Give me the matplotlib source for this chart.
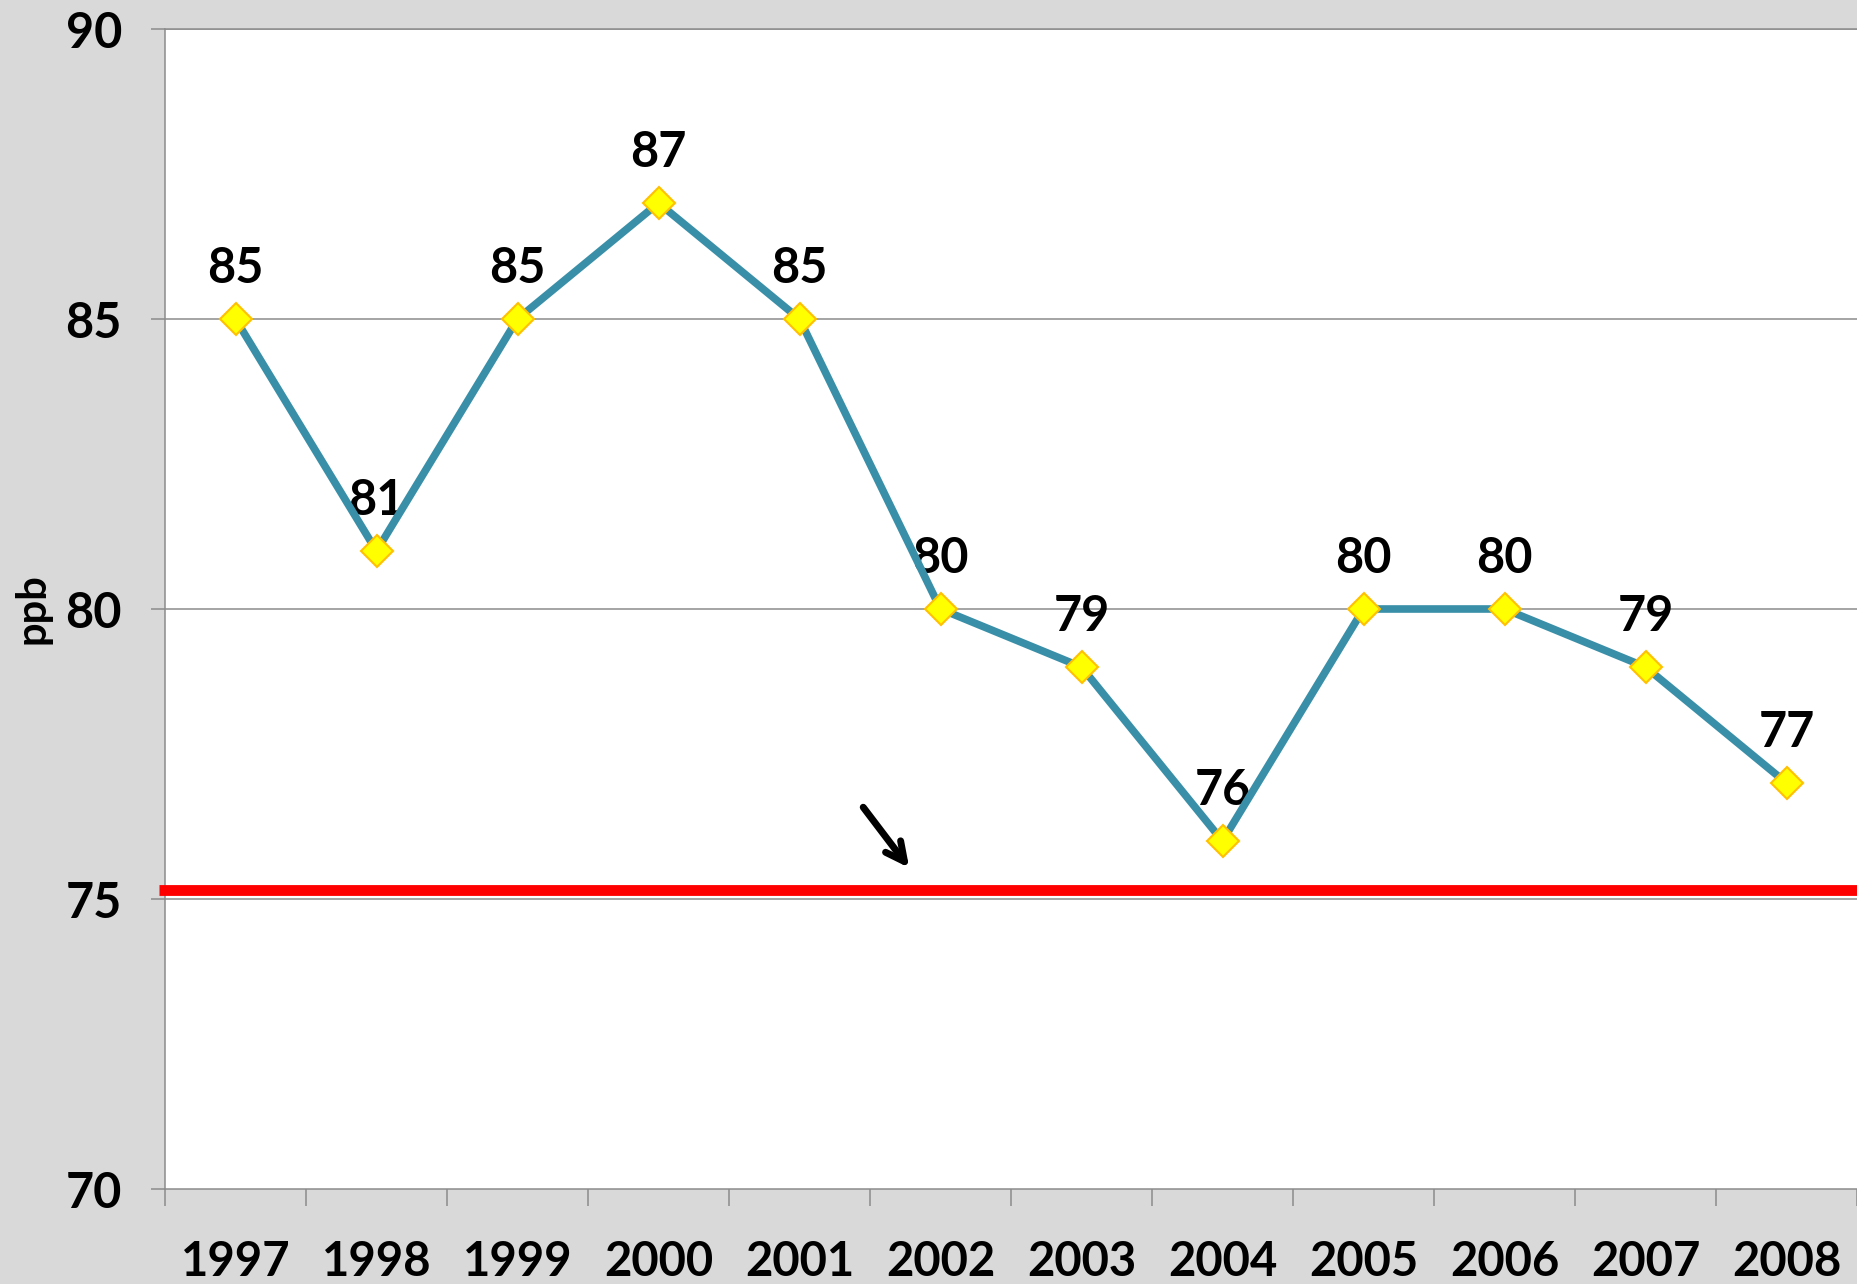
#Ozone trend line chart (ppb by year) with the standard drawn as a red line
import matplotlib.pyplot as plt
import numpy as np

plt.rcParams['font.family'] = ['Lato', 'DejaVu Sans']
plt.rcParams['font.weight'] = 'bold'

# data
years = ['1997', '1998', '1999', '2000', '2001', '2002',
         '2003', '2004', '2005', '2006', '2007', '2008']
ppb = [85, 81, 85, 87, 85, 80, 79, 76, 80, 80, 79, 77]
standard = 75.15
y_ticks = [70, 75, 80, 85, 90]

# arrow pointing at the standard (category units, ppb)
arrow_tail = (4.44, 76.62)
arrow_head = (4.79, 75.5)

bg = '#D9D9D9'
grid_col = '#8C8C8C'

fig = plt.figure(figsize=(18.57, 12.84), dpi=100, facecolor=bg)
ax = fig.add_axes([165/1857, 1-1189/1284, 1-165/1857, (1189-29)/1284])
ax.set_facecolor('white')

x = np.arange(len(years))

#gridlines
for v in y_ticks[1:]:
    ax.axhline(v, color=grid_col, lw=1.1, zorder=1)

#red standard line, starts a bit left of the axis
ax.plot([-0.54, len(years)], [standard, standard], color='#FF0000', lw=7.8,
        solid_capstyle='butt', clip_on=False, zorder=3)

#data labels (under the line, like the original)
for xi, v in zip(x, ppb):
    ax.annotate(str(v), (xi, v), xytext=(0, 26), textcoords='offset points',
                ha='center', va='baseline', fontsize=35, fontweight='bold',
                color='black', zorder=2)

ax.plot(x, ppb, color='#3A8FA8', lw=5.5, zorder=4,
        marker='D', markersize=16, markerfacecolor='#FFFF00',
        markeredgecolor='#FFC000', markeredgewidth=1.5)

ax.annotate('', xy=arrow_head, xytext=arrow_tail,
            arrowprops=dict(arrowstyle='->', color='black', lw=5,
                            mutation_scale=34))

ax.set_xlim(-0.5, len(years) - 0.5)
ax.set_ylim(70, 90)

ax.set_yticks(y_ticks)
ax.set_yticklabels([str(v) for v in y_ticks], fontsize=35, fontweight='bold')
ax.tick_params(axis='y', length=10, width=1.1, color=grid_col, pad=21)

ax.set_xticks(x)
ax.set_xticklabels(years, fontsize=34, fontweight='bold')
ax.set_xticks(np.arange(-0.5, len(years)), minor=True)
ax.tick_params(axis='x', which='major', length=0, pad=37)
ax.tick_params(axis='x', which='minor', length=12, width=1.1, color=grid_col)

for s in ['left', 'bottom', 'top']:
    ax.spines[s].set_color(grid_col)
    ax.spines[s].set_linewidth(1.1)
ax.spines['right'].set_visible(False)

ax.set_ylabel('ppb')
ax.yaxis.label.set_fontsize(30)
ax.yaxis.label.set_fontweight('bold')
ax.yaxis.set_label_coords((52 - 165) / (1857 - 165), 0.5)

fig.savefig('out.png', dpi=100, facecolor=bg)
